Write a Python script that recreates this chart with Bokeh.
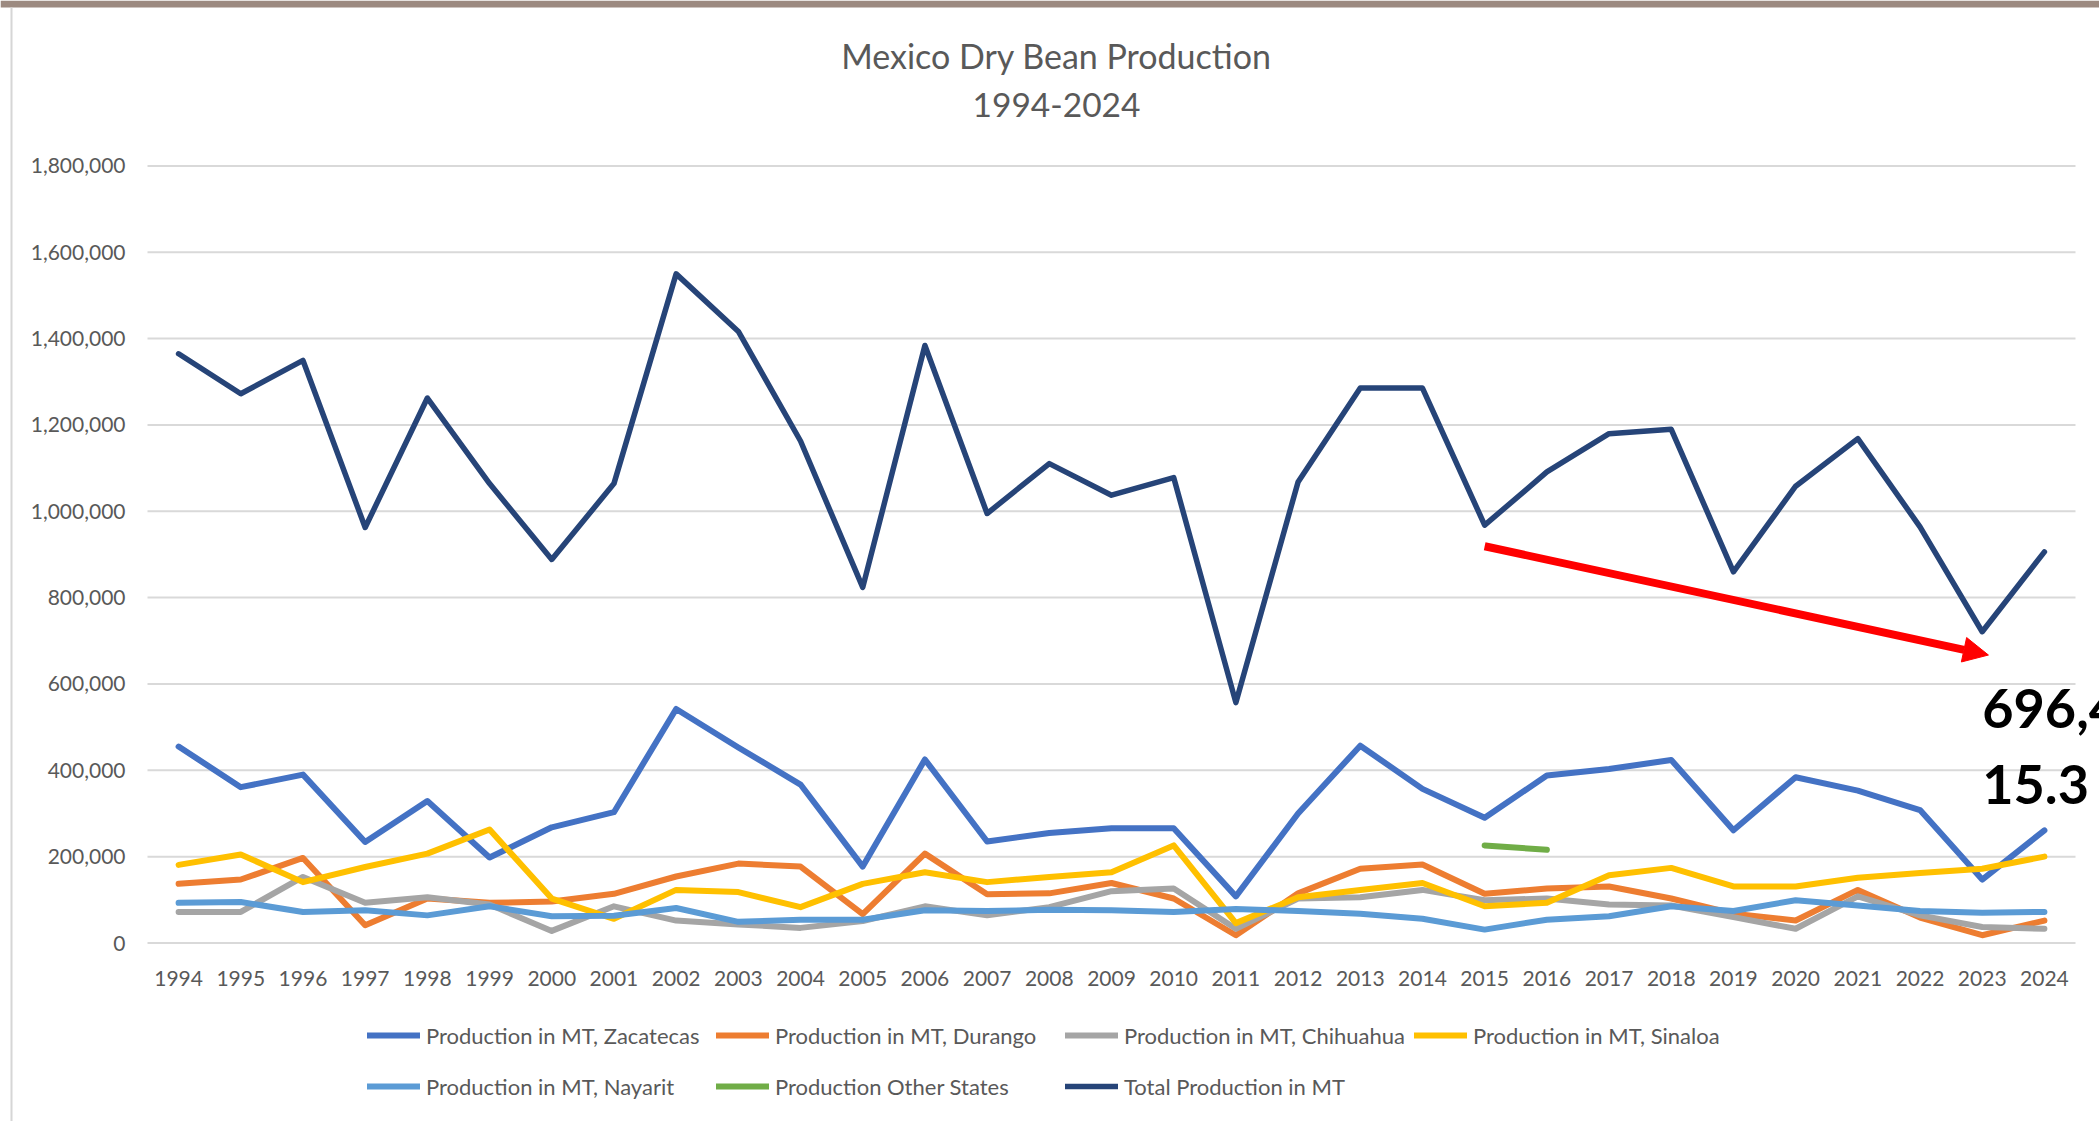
from bokeh.plotting import figure
from bokeh.models import (Range1d, FixedTicker, NumeralTickFormatter, Legend, LegendItem,
                          Label, Arrow, NormalHead, BoxAnnotation)
from bokeh.embed import file_html
from bokeh.resources import INLINE

NA = float("nan")

years = [1994, 1995, 1996, 1997, 1998, 1999, 2000, 2001, 2002, 2003, 2004,
         2005, 2006, 2007, 2008, 2009, 2010, 2011, 2012, 2013, 2014,
         2015, 2016, 2017, 2018, 2019, 2020, 2021, 2022, 2023, 2024]

zacatecas = [455000, 361000, 390000, 234000, 329000, 198000, 268000, 303000, 542000, 453000, 367000,
             177000, 425000, 235000, 255000, 266000, 266000, 108000, 300000, 457000, 357000,
             290000, 388000, 403000, 424000, 261000, 384000, 353000, 308000, 147000, 261000]

durango = [137000, 147000, 197000, 41000, 103000, 93000, 96000, 114000, 154000, 184000, 177000,
           67000, 207000, 113000, 115000, 139000, 103000, 18000, 115000, 172000, 182000,
           114000, 126000, 131000, 103000, 68000, 52000, 123000, 59000, 18000, 52000]

chihuahua = [72000, 72000, 153000, 93000, 106000, 89000, 28000, 85000, 52000, 43000, 35000,
             51000, 85000, 64000, 83000, 120000, 126000, 33000, 103000, 106000, 123000,
             99000, 103000, 89000, 87000, 60000, 33000, 108000, 64000, 37000, 33000]

sinaloa = [181000, 205000, 141000, 176000, 207000, 263000, 103000, 56000, 123000, 118000, 83000,
           137000, 164000, 141000, 153000, 164000, 226000, 46000, 106000, 123000, 139000,
           85000, 93000, 157000, 174000, 131000, 131000, 151000, 162000, 172000, 200000]

nayarit = [93000, 95000, 72000, 76000, 64000, 85000, 62000, 63000, 81000, 49000, 54000,
           54000, 76000, 74000, 77000, 76000, 72000, 79000, 74000, 68000, 56000,
           31000, 54000, 62000, 85000, 74000, 99000, 87000, 74000, 70000, 72000]

other_states = [NA, NA, NA, NA, NA, NA, NA, NA, NA, NA, NA,
                NA, NA, NA, NA, NA, NA, NA, NA, NA, NA,
                226000, 216000, NA, NA, NA, NA, NA, NA, NA, NA]

total = [1364800, 1272300, 1349400, 962400, 1262300, 1064100, 888400, 1064100, 1549900, 1416500, 1162800,
         823600, 1384100, 994800, 1110400, 1037200, 1078000, 556800, 1068000, 1285400, 1285400,
         967800, 1091100, 1179800, 1189800, 859800, 1058000, 1168200, 963900, 721000, 906100]

series_names = ["Production in MT, Zacatecas", "Production in MT, Durango",
                "Production in MT, Chihuahua", "Production in MT, Sinaloa",
                "Production in MT, Nayarit", "Production Other States",
                "Total Production in MT"]
series_colors = ["#4472C4", "#ED7D31", "#A5A5A5", "#FFC000", "#5B9BD5", "#70AD47", "#264478"]
series_widths = [6, 6, 6, 6, 6, 6, 5.5]

y_ticks = [0, 200000, 400000, 600000, 800000, 1000000, 1200000, 1400000, 1600000, 1800000]

title_line1 = "Mexico Dry Bean Production"
title_line2 = "1994-2024"

trend_start = (2015, 919000)
trend_end = (2023.1, 667000)
note_line1 = "696,4"
note_line2 = "15.3"

FONT = "Lato"
GREY_TEXT = "#595959"
GRID = "#D9D9D9"

W, H = 2099, 1121
# plot area (pixels) inside the canvas
PL, PR, PT, PB = 147, 2075, 165.4, 942.5
X0, X1 = 1993.5, 2024.5
Y0, Y1 = 0, 1800000
xs = (X1 - X0) / (PR - PL)
ys = (Y1 - Y0) / (PB - PT)

p = figure(width=W, height=H, output_backend="svg", toolbar_location=None,
           x_range=Range1d(X0 - PL * xs, X1 + (W - PR) * xs),
           y_range=Range1d(Y0 - (H - PB) * ys, Y1 + PT * ys),
           min_border=0)
p.outline_line_color = None
p.background_fill_color = "white"
p.border_fill_color = "white"
p.xgrid.visible = False
p.ygrid.visible = False

# page decorations of the slide: top strip and left border
p.add_layout(BoxAnnotation(left=0, right=W, bottom=H - 7, top=H, left_units="screen",
                           right_units="screen", bottom_units="screen", top_units="screen",
                           fill_color="#9C8A80", fill_alpha=1, line_color=None))
p.add_layout(BoxAnnotation(left=10, right=12, bottom=0, top=H - 7, left_units="screen",
                           right_units="screen", bottom_units="screen", top_units="screen",
                           fill_color="#D6D6D6", fill_alpha=1, line_color=None))

# horizontal gridlines across the plot area only
p.segment(x0=[X0] * len(y_ticks), x1=[X1] * len(y_ticks), y0=y_ticks, y1=y_ticks,
          line_color=GRID, line_width=2)

p.yaxis.fixed_location = X0
p.yaxis.bounds = (Y0, Y1)
p.yaxis.ticker = FixedTicker(ticks=y_ticks)
p.yaxis.formatter = NumeralTickFormatter(format="0,0")
p.yaxis.axis_line_color = None
p.yaxis.major_tick_line_color = None
p.yaxis.major_tick_out = 0
p.yaxis.major_tick_in = 0
p.yaxis.minor_tick_line_color = None
p.yaxis.minor_tick_out = 0
p.yaxis.major_label_standoff = 22

p.xaxis.fixed_location = Y0
p.xaxis.bounds = (X0, X1)
p.xaxis.ticker = FixedTicker(ticks=years)
p.xaxis.axis_line_color = None
p.xaxis.major_tick_line_color = None
p.xaxis.major_tick_out = 0
p.xaxis.major_tick_in = 0
p.xaxis.minor_tick_line_color = None
p.xaxis.minor_tick_out = 0
p.xaxis.major_label_standoff = 28

for ax in (p.xaxis, p.yaxis):
    ax.major_label_text_font = FONT
    ax.major_label_text_font_size = "21px"
    ax.major_label_text_color = GREY_TEXT

data = [zacatecas, durango, chihuahua, sinaloa, nayarit, other_states, total]
renderers = []
for vals, col, lw in zip(data, series_colors, series_widths):
    r = p.line(years, vals, line_color=col, line_width=lw,
               line_join="round", line_cap="round")
    renderers.append(r)

legend = Legend(items=[LegendItem(label=n, renderers=[r]) for n, r in zip(series_names, renderers)],
                location=(367, 9.5), orientation="horizontal", ncols=4,
                glyph_width=53, glyph_height=20, label_standoff=6,
                label_width=290, label_height=51, spacing=0, padding=0, margin=0,
                border_line_color=None, background_fill_alpha=0,
                label_text_font=FONT, label_text_font_size="22px",
                label_text_color=GREY_TEXT)
p.add_layout(legend, "center")

p.add_layout(Label(x=1056, y=H - 55, x_units="screen", y_units="screen", text=title_line1,
                   text_align="center", text_baseline="middle", text_font=FONT,
                   text_font_size="34px", text_color=GREY_TEXT))
p.add_layout(Label(x=1056, y=H - 104, x_units="screen", y_units="screen", text=title_line2,
                   text_align="center", text_baseline="middle", text_font=FONT,
                   text_font_size="33.5px", text_color=GREY_TEXT))

p.add_layout(Arrow(end=NormalHead(size=25, fill_color="#FF0000", line_color="#FF0000", line_width=1),
                   x_start=trend_start[0], y_start=trend_start[1],
                   x_end=trend_end[0], y_end=trend_end[1],
                   line_color="#FF0000", line_width=8))

p.add_layout(Label(x=2023, y=543000, text=note_line1, text_align="left", text_baseline="middle",
                   text_font=FONT, text_font_style="bold", text_font_size="54px", text_color="black"))
p.add_layout(Label(x=2023, y=367000, text=note_line2, text_align="left", text_baseline="middle",
                   text_font=FONT, text_font_style="bold", text_font_size="54px", text_color="black"))

open("out.html", "w").write(file_html(p, INLINE))
